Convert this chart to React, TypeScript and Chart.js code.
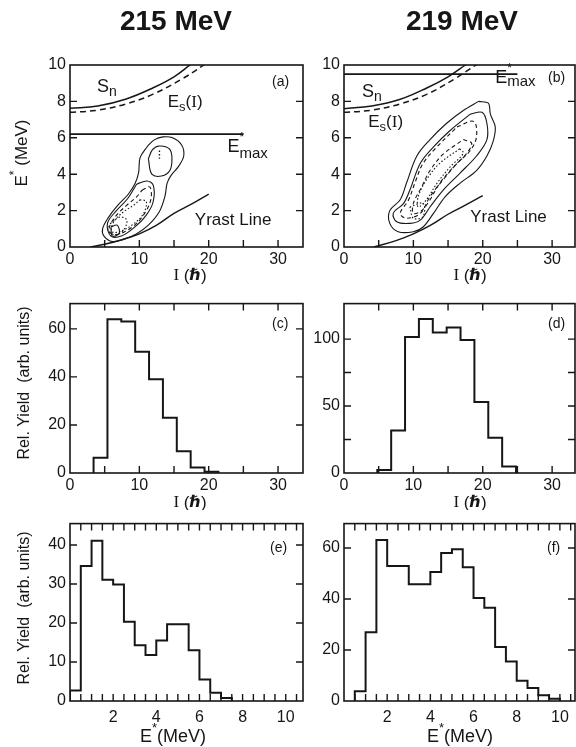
import React, { useEffect, useRef } from 'react';
import { Chart, registerables } from 'chart.js';
Chart.register(...registerables);

const INK = '#161616';
const SANS = '"Liberation Sans", Arial, Helvetica, sans-serif';
const SERIF = '"Liberation Serif", "Times New Roman", serif';
const SYM = '"DejaVu Sans", sans-serif';

// ---------- titles ----------
const beamEnergies = ['215 MeV', '219 MeV'];

// ---------- panel (a): 215 MeV, E* vs I ----------
const snA_I = [0, 4, 8, 12, 15, 17.3, 19];
const snA_E = [7.62, 7.75, 8.12, 8.75, 9.35, 10, 10.5];
const esA_I = [0, 4, 8, 12, 16, 19.3, 21];
const esA_E = [7.4, 7.52, 7.85, 8.4, 9.2, 10, 10.5];
const emaxA_I = [0, 25];
const emaxA_E = [6.2, 6.2];
const yrastA_I = [3, 5, 7.5, 10, 12.5, 15, 17.5, 20];
const yrastA_E = [0, 0.15, 0.4, 0.72, 1.2, 1.85, 2.35, 2.9];
const contA1 = [[11.2, 5.55], [12.2, 5.9], [13.4, 6.05], [14.8, 6.0], [16.1, 5.6], [16.4, 5.0], [15.6, 4.4], [14.6, 3.95], [14.0, 3.5], [13.7, 2.8], [12.9, 1.95], [11.3, 1.2], [9.5, 0.7], [7.7, 0.42], [6.1, 0.3], [4.9, 0.6], [4.7, 1.0], [5.5, 1.6], [6.9, 2.3], [8.4, 2.9], [9.4, 3.5], [9.9, 4.1], [10.1, 4.9]];
const contA2 = [[11.3, 4.85], [11.9, 5.35], [12.9, 5.55], [14.3, 5.4], [14.7, 4.9], [14.4, 4.2], [13.2, 3.9], [11.8, 4.0]];
const contA3 = [[9.6, 3.45], [11.1, 3.63], [12.0, 3.4], [12.0, 2.5], [11.0, 1.75], [9.2, 1.05], [7.4, 0.6], [5.9, 0.6], [5.4, 1.3], [6.7, 2.0], [8.3, 2.65]];
const contA4 = [[10.4, 3.12], [11.5, 3.3], [11.7, 2.7], [11.0, 2.0], [9.6, 1.3], [7.7, 0.8], [6.3, 0.68], [5.6, 0.95], [6.5, 1.65], [8.2, 2.3], [9.6, 2.75]];
const contA5 = [[10.1, 2.6], [11.0, 2.5], [10.6, 1.83], [9.2, 1.28], [7.2, 0.85], [6.0, 0.85], [6.3, 1.38], [7.7, 1.93], [9.2, 2.3]];
const contA6 = [[5.8, 1.28], [7.2, 1.65], [8.2, 1.47], [7.7, 0.92], [6.5, 0.68], [5.5, 0.88]];
const contA7 = [[5.9, 1.1], [6.8, 1.2], [7.1, 0.75], [6.1, 0.6]];
const dotsA = [[12.9, 5.3], [12.9, 4.85]];

// ---------- panel (b): 219 MeV, E* vs I ----------
const snB_I = [0, 4, 8, 12, 15, 17.5, 19];
const snB_E = [7.6, 7.75, 8.1, 8.75, 9.35, 10, 10.4];
const esB_I = [0, 4, 8, 12, 16, 19, 21];
const esB_E = [7.4, 7.52, 7.85, 8.4, 9.25, 10, 10.5];
const emaxB_I = [0, 25];
const emaxB_E = [9.5, 9.5];
const yrastB_I = [4.3, 7.5, 10, 12.5, 15, 17.5, 20];
const yrastB_E = [0, 0.35, 0.72, 1.2, 1.8, 2.3, 2.82];
const contB1 = [[19.4, 8.0], [20.8, 7.9], [21.1, 7.3], [21.8, 6.6], [21.5, 5.8], [20.6, 5.0], [19.1, 4.2], [16.7, 3.5], [14.6, 2.77], [12.9, 1.85], [11.4, 1.1], [10.0, 0.84], [7.8, 0.84], [6.6, 1.3], [6.6, 2.0], [8.1, 2.6], [9.0, 3.5], [10.5, 5.0], [12.4, 5.9], [14.8, 6.8], [17.2, 7.5]];
const contB2 = [[18.2, 7.3], [19.9, 7.4], [20.6, 6.8], [20.6, 5.9], [19.1, 5.0], [16.7, 4.05], [14.3, 3.13], [12.4, 2.2], [11.0, 1.48], [9.5, 1.3], [7.6, 1.39], [7.1, 1.85], [8.6, 2.4], [9.5, 3.13], [11.0, 4.6], [12.9, 5.5], [15.3, 6.4]];
const contB3 = [[16.3, 6.6], [18.7, 6.9], [19.1, 6.06], [18.2, 5.3], [16.3, 4.6], [14.3, 3.7], [12.4, 2.77], [11.0, 1.85], [9.0, 1.58], [8.1, 1.85], [9.3, 2.58], [10.2, 3.5], [11.4, 4.6], [13.4, 5.5]];
const contB4 = [[17.2, 5.9], [18.4, 5.7], [17.7, 5.15], [15.8, 4.4], [13.8, 3.5], [12.4, 2.6], [11.2, 2.0], [10.0, 1.85], [10.0, 2.4], [11.2, 3.3], [12.4, 4.2], [14.3, 5.1]];
const contB5 = [[16.7, 5.4], [17.2, 5.15], [15.3, 4.4], [13.4, 3.5], [11.9, 2.6], [10.7, 2.2], [10.7, 2.77], [11.9, 3.7], [13.8, 4.6]];
const contB6 = [[9.5, 2.2], [11.4, 2.4], [11.4, 1.67], [10.0, 1.58]];

// ---------- panel (c): 215 MeV, yield vs I ----------
const histC_edges = [3.4, 5.4, 7.4, 9.4, 11.4, 13.4, 15.4, 17.4, 19.4, 21.4];
const histC_vals = [6.3, 64, 63, 50.5, 39, 23, 9, 2.3, 0.5];

// ---------- panel (d): 219 MeV, yield vs I ----------
const histD_edges = [4.8, 6.8, 8.8, 10.8, 12.8, 14.8, 16.8, 18.8, 20.8, 22.8, 24.8];
const histD_vals = [2.3, 31.8, 101.6, 115, 105, 108.6, 99.3, 53, 26.4, 4.9];

// ---------- panel (e): 215 MeV, yield vs E* ----------
const histE_edges = [0, 0.5, 1, 1.5, 2, 2.5, 3, 3.5, 4, 4.5, 5, 5.5, 6, 6.5, 7, 7.5];
const histE_vals = [2.7, 34.6, 41.1, 31.1, 29.9, 20.3, 14.3, 11.8, 15.5, 19.7, 19.7, 13, 5.5, 2.1, 0.8];

// ---------- panel (f): 219 MeV, yield vs E* ----------
const histF_edges = [0.5, 1, 1.5, 2, 2.5, 3, 3.5, 4, 4.5, 5, 5.5, 6, 6.5, 7, 7.5, 8, 8.5, 9, 9.5, 10];
const histF_vals = [3.8, 27, 63.2, 53, 53, 45.8, 45.8, 50.6, 58.1, 59.5, 52.5, 40.4, 36.6, 21.2, 15.5, 7.9, 5.1, 2.3, 0.9];

// ---------- tick values ----------
const spinLabels = [0, 10, 20, 30];
const spinTicks = [5, 10, 15, 20, 25, 30];
const exLabels = [0, 2, 4, 6, 8, 10];
const exTicks = [2, 4, 6, 8];
const yieldCLabels = [0, 20, 40, 60];
const yieldCTicks = [20, 40, 60];
const yieldDLabels = [0, 50, 100];
const yieldDTicks = [25, 50, 75, 100];
const yieldELabels = [0, 10, 20, 30, 40];
const yieldETicks = [10, 20, 30, 40];
const yieldFLabels = [0, 20, 40, 60];
const yieldFTicks = [20, 40, 60];
const energyLabels = [2, 4, 6, 8, 10];
const energyTicks = [0.5, 1, 1.5, 2, 2.5, 3, 3.5, 4, 4.5, 5, 5.5, 6, 6.5, 7, 7.5, 8, 8.5, 9, 9.5, 10, 10.5];

// ---------- helpers ----------
const zip = (xs: number[], ys: number[]) => xs.map((x, i) => ({ x, y: ys[i] }));
const closed = (pairs: number[][]) => [...pairs, pairs[0]].map(([x, y]) => ({ x, y }));
const open = (pairs: number[][]) => pairs.map(([x, y]) => ({ x, y }));
const histPts = (edges: number[], vals: number[]) => {
  const pts = [{ x: edges[0], y: 0 }];
  vals.forEach((v, i) => pts.push({ x: edges[i], y: v }));
  pts.push({ x: edges[edges.length - 1], y: vals[vals.length - 1] });
  pts.push({ x: edges[edges.length - 1], y: 0 });
  return pts;
};
const line = (data: any[], width = 1.1, dash: number[] = [], tension = 0.35) => ({
  data, showLine: true, pointRadius: 0, borderColor: INK, borderWidth: width, borderDash: dash,
  tension, fill: false,
});
const hist = (edges: number[], vals: number[]) => ({
  data: histPts(edges, vals), showLine: true, pointRadius: 0, borderColor: INK, borderWidth: 2,
  stepped: 'before', fill: false,
});
const DASH = [4, 3];
const DOT = [1.5, 2];

type Part = { t: string; s: number; dy?: number; f?: string; w?: string; adv?: boolean };
function rich(ctx: CanvasRenderingContext2D, parts: Part[], x: number, y: number, align = 'left', rot = 0, base: CanvasTextBaseline = 'alphabetic') {
  ctx.save();
  ctx.translate(x, y);
  if (rot) ctx.rotate(rot);
  ctx.fillStyle = INK;
  ctx.textBaseline = base;
  ctx.textAlign = 'left';
  const fontOf = (p: Part) => `${p.w || 'normal'} ${p.s}px ${p.f || SANS}`;
  const ws = parts.map((p) => { ctx.font = fontOf(p); return p.adv === false ? 0 : ctx.measureText(p.t).width; });
  const total = ws.reduce((a, b) => a + b, 0);
  let cx = align === 'center' ? -total / 2 : 0;
  parts.forEach((p, i) => { ctx.font = fontOf(p); ctx.fillText(p.t, cx, p.dy || 0); cx += ws[i]; });
  ctx.restore();
}

const spinTitle: Part[] = [{ t: 'I', s: 17, f: SERIF }, { t: ' (', s: 17 }, { t: 'ℏ', s: 16, f: SYM, w: 'bold' }, { t: ')', s: 17 }];
const eTitleRot: Part[] = [{ t: 'E', s: 17 }, { t: '*', s: 12, dy: -7 }, { t: ' (MeV)', s: 17 }];
const yieldTitle: Part[] = [{ t: 'Rel. Yield  (arb. units)', s: 16 }];
const eTitleX: Part[] = [{ t: 'E', s: 18 }, { t: '*', s: 13, dy: -9 }, { t: '(MeV)', s: 18 }];

interface Spec {
  key: string; left: number; top: number; width: number; height: number;
  yAxisW: number; xAxisH: number; padTop: number; padRight: number;
  xMax: number; yMax: number; xLabels: number[]; yLabels: number[];
  xTicksBottom: number[]; xTicksTop: number[]; yTicks: number[]; xPad: number;
  datasets: any[]; draw: (ctx: CanvasRenderingContext2D, chart: any) => void;
}

function buildConfig(p: Spec): any {
  const tickFont = { family: SANS, size: 16 };
  const framePlugin = {
    id: 'frame_' + p.key,
    afterDraw(chart: any) {
      const { ctx, chartArea: a } = chart;
      const xs = chart.scales.x, ys = chart.scales.y;
      const L = 7;
      ctx.save();
      ctx.strokeStyle = INK;
      ctx.lineWidth = 1.6;
      ctx.strokeRect(a.left, a.top, a.right - a.left, a.bottom - a.top);
      ctx.lineWidth = 1.4;
      ctx.beginPath();
      p.xTicksBottom.forEach((v) => { const px = xs.getPixelForValue(v); ctx.moveTo(px, a.bottom); ctx.lineTo(px, a.bottom - L); });
      p.xTicksTop.forEach((v) => { const px = xs.getPixelForValue(v); ctx.moveTo(px, a.top); ctx.lineTo(px, a.top + L); });
      p.yTicks.forEach((v) => {
        const py = ys.getPixelForValue(v);
        ctx.moveTo(a.left, py); ctx.lineTo(a.left + L, py);
        ctx.moveTo(a.right, py); ctx.lineTo(a.right - L, py);
      });
      ctx.stroke();
      ctx.restore();
      p.draw(ctx, chart);
    },
  };
  return {
    type: 'scatter',
    data: { datasets: p.datasets },
    options: {
      animation: false, responsive: false, maintainAspectRatio: false, events: [],
      layout: { padding: { top: p.padTop, right: p.padRight, left: 0, bottom: 0 } },
      plugins: { legend: { display: false }, tooltip: { enabled: false }, title: { display: false } },
      scales: {
        x: {
          type: 'linear', min: 0, max: p.xMax,
          grid: { display: false, drawTicks: false }, border: { display: false },
          ticks: { font: tickFont, color: INK, padding: p.xPad, autoSkip: false, maxRotation: 0, callback: (v: number) => String(v) },
          afterBuildTicks: (s: any) => { s.ticks = p.xLabels.map((v) => ({ value: v })); },
          afterFit: (s: any) => { s.height = p.xAxisH; },
        },
        y: {
          type: 'linear', min: 0, max: p.yMax,
          grid: { display: false, drawTicks: false }, border: { display: false },
          ticks: { font: tickFont, color: INK, padding: 4, autoSkip: false, callback: (v: number) => String(v) },
          afterBuildTicks: (s: any) => { s.ticks = p.yLabels.map((v) => ({ value: v })); },
          afterFit: (s: any) => { s.width = p.yAxisW; },
        },
      },
    },
    plugins: [framePlugin],
  };
}

const LEFT = { left: 0, width: 310, yAxisW: 70, padRight: 7 };
const RIGHT = { left: 310, width: 266, yAxisW: 34, padRight: 1 };
const ROW1 = { top: 0, height: 290, padTop: 65, xAxisH: 43, xPad: 3 };
const ROW2 = { top: 290, height: 220, padTop: 2, xAxisH: 37, xPad: 3 };
const ROW3 = { top: 510, height: 237, padTop: 8, xAxisH: 46, xPad: 7 };

const panelLabel = (ctx: CanvasRenderingContext2D, chart: any, txt: string, dx: number, dy: number) => {
  const a = chart.chartArea;
  rich(ctx, [{ t: txt, s: 14 }], a.right - dx, a.top + dy);
};

const specs: Spec[] = [
  {
    key: 'a', ...LEFT, ...ROW1, xMax: 33.6, yMax: 10, xLabels: spinLabels, yLabels: exLabels,
    xTicksBottom: spinTicks, xTicksTop: [], yTicks: exTicks,
    datasets: [
      line(zip(snA_I, snA_E), 1.5, [], 0.4),
      line(zip(esA_I, esA_E), 1.5, [6, 4], 0.4),
      line(zip(emaxA_I, emaxA_E), 1.6, [], 0),
      line(zip(yrastA_I, yrastA_E), 1.4, [], 0.4),
      line(closed(contA1)), line(closed(contA2)), line(closed(contA3)),
      line(closed(contA4), 1.1, DASH), line(closed(contA5), 1.1, DOT), line(closed(contA6), 1.1, DOT),
      line(closed(contA7)), line(open(dotsA), 1.4, DOT, 0),
    ],
    draw: (ctx, chart) => {
      const X = (v: number) => chart.scales.x.getPixelForValue(v);
      const Y = (v: number) => chart.scales.y.getPixelForValue(v);
      rich(ctx, [{ t: beamEnergies[0], s: 28, w: 'bold' }], 176, 22, 'center', 0, 'middle');
      rich(ctx, eTitleRot, 22, 153, 'center', -Math.PI / 2, 'middle');
      rich(ctx, spinTitle, 190, 276, 'center', 0, 'middle');
      rich(ctx, [{ t: 'S', s: 18 }, { t: 'n', s: 14, dy: 4 }], X(3.9), Y(8.5));
      rich(ctx, [{ t: 'E', s: 17 }, { t: 's', s: 13, dy: 4 }, { t: '(', s: 17 }, { t: 'I', s: 17, f: SERIF }, { t: ')', s: 17 }], X(14.1), Y(7.7));
      rich(ctx, [{ t: 'E', s: 18 }, { t: '*', s: 12, dy: -11, adv: false }, { t: 'max', s: 15, dy: 6 }], X(22.7), Y(5.22));
      rich(ctx, [{ t: 'Yrast Line', s: 17 }], X(18), Y(1.2));
      panelLabel(ctx, chart, '(a)', 31, 21);
    },
  },
  {
    key: 'b', ...RIGHT, ...ROW1, xMax: 33.3, yMax: 10, xLabels: spinLabels, yLabels: exLabels,
    xTicksBottom: spinTicks, xTicksTop: [], yTicks: exTicks,
    datasets: [
      line(zip(snB_I, snB_E), 1.5, [], 0.4),
      line(zip(esB_I, esB_E), 1.5, [6, 4], 0.4),
      line(zip(emaxB_I, emaxB_E), 1.6, [], 0),
      line(zip(yrastB_I, yrastB_E), 1.4, [], 0.4),
      line(closed(contB1)), line(closed(contB2)),
      line(closed(contB3), 1.1, DASH), line(closed(contB4), 1.1, DASH),
      line(closed(contB5), 1.1, DOT), line(closed(contB6), 1.1, DOT),
    ],
    draw: (ctx, chart) => {
      const X = (v: number) => chart.scales.x.getPixelForValue(v);
      const Y = (v: number) => chart.scales.y.getPixelForValue(v);
      rich(ctx, [{ t: beamEnergies[1], s: 28, w: 'bold' }], 152, 22, 'center', 0, 'middle');
      rich(ctx, spinTitle, 160, 276, 'center', 0, 'middle');
      rich(ctx, [{ t: 'S', s: 18 }, { t: 'n', s: 14, dy: 4 }], X(2.6), Y(8.24));
      rich(ctx, [{ t: 'E', s: 17 }, { t: 's', s: 13, dy: 4 }, { t: '(', s: 17 }, { t: 'I', s: 17, f: SERIF }, { t: ')', s: 17 }], X(3.5), Y(6.6));
      rich(ctx, [{ t: 'E', s: 18 }, { t: '*', s: 12, dy: -11, adv: false }, { t: 'max', s: 15, dy: 3 }], X(21.8), Y(9.0));
      rich(ctx, [{ t: 'Yrast Line', s: 17 }], X(18.2), Y(1.37));
      panelLabel(ctx, chart, '(b)', 27, 17);
    },
  },
  {
    key: 'c', ...LEFT, ...ROW2, xMax: 33.6, yMax: 70.5, xLabels: spinLabels, yLabels: yieldCLabels,
    xTicksBottom: spinTicks, xTicksTop: spinTicks, yTicks: yieldCTicks,
    datasets: [hist(histC_edges, histC_vals)],
    draw: (ctx, chart) => {
      rich(ctx, yieldTitle, 25, 93, 'center', -Math.PI / 2, 'middle');
      rich(ctx, spinTitle, 190, 213, 'center', 0, 'middle');
      panelLabel(ctx, chart, '(c)', 31, 24);
    },
  },
  {
    key: 'd', ...RIGHT, ...ROW2, xMax: 33.3, yMax: 126.5, xLabels: spinLabels, yLabels: yieldDLabels,
    xTicksBottom: spinTicks, xTicksTop: spinTicks, yTicks: yieldDTicks,
    datasets: [hist(histD_edges, histD_vals)],
    draw: (ctx, chart) => {
      rich(ctx, spinTitle, 160, 213, 'center', 0, 'middle');
      panelLabel(ctx, chart, '(d)', 27, 24);
    },
  },
  {
    key: 'e', ...LEFT, ...ROW3, xMax: 10.8, yMax: 45.5, xLabels: energyLabels, yLabels: yieldELabels,
    xTicksBottom: energyTicks, xTicksTop: energyTicks, yTicks: yieldETicks,
    datasets: [hist(histE_edges, histE_vals)],
    draw: (ctx, chart) => {
      rich(ctx, yieldTitle, 25, 98, 'center', -Math.PI / 2, 'middle');
      rich(ctx, eTitleX, 173, 227, 'center', 0, 'middle');
      panelLabel(ctx, chart, '(e)', 33, 28);
    },
  },
  {
    key: 'f', ...RIGHT, ...ROW3, xMax: 10.7, yMax: 69.6, xLabels: energyLabels, yLabels: yieldFLabels,
    xTicksBottom: energyTicks, xTicksTop: energyTicks, yTicks: yieldFTicks,
    datasets: [hist(histF_edges, histF_vals)],
    draw: (ctx, chart) => {
      rich(ctx, eTitleX, 150, 227, 'center', 0, 'middle');
      panelLabel(ctx, chart, '(f)', 28, 28);
    },
  },
];

function Panel({ spec }: { spec: Spec }) {
  const ref = useRef<HTMLCanvasElement>(null);
  useEffect(() => {
    const chart = new Chart(ref.current as HTMLCanvasElement, buildConfig(spec));
    return () => chart.destroy();
  }, [spec]);
  return (
    <canvas
      ref={ref}
      width={spec.width}
      height={spec.height}
      style={{ position: 'absolute', left: spec.left, top: spec.top, width: spec.width, height: spec.height }}
    />
  );
}

export default function App() {
  return (
    <div style={{ position: 'absolute', left: 0, top: 0, width: 576, height: 747, background: '#fff', overflow: 'hidden' }}>
      {specs.map((s) => <Panel key={s.key} spec={s} />)}
    </div>
  );
}
